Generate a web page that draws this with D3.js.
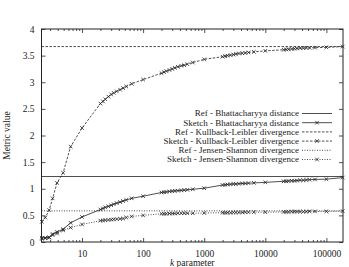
<!DOCTYPE html>
<html><head><meta charset="utf-8">
<script src="https://cdn.jsdelivr.net/npm/d3@7"></script>
<style>
body{margin:0;background:#fff;}
svg{display:block;}
</style></head>
<body><svg id="c" width="349" height="267"></svg>
<script>
// k parameter values
const kValues = [2.2, 2.5, 2.9, 3.3, 3.9, 4.9, 6.5, 10,
  20, 22, 24, 27, 30, 33, 37, 42, 47, 53, 65, 100,
  200, 220, 240, 270, 300, 330, 370, 420, 470, 530, 650, 1000,
  2000, 2200, 2400, 2700, 3000, 3300, 3700, 4200, 4700, 5300, 6500, 10000,
  20000, 22000, 24000, 27000, 30000, 33000, 37000, 42000, 47000, 53000, 65000, 100000,
  185000];
const sketchBhatt = [0.08, 0.08, 0.09, 0.15, 0.19, 0.24, 0.36, 0.47,
  0.61, 0.63, 0.65, 0.67, 0.69, 0.71, 0.73, 0.75, 0.77, 0.79, 0.82, 0.86,
  0.93, 0.935, 0.94, 0.95, 0.955, 0.96, 0.965, 0.97, 0.975, 0.98, 0.99, 1.01,
  1.07, 1.075, 1.08, 1.085, 1.09, 1.09, 1.095, 1.10, 1.10, 1.105, 1.11, 1.12,
  1.14, 1.14, 1.145, 1.15, 1.15, 1.155, 1.16, 1.16, 1.165, 1.17, 1.175, 1.18,
  1.21];
const sketchKL = [0.38, 0.46, 0.60, 0.82, 1.11, 1.30, 1.79, 2.14,
  2.60, 2.64, 2.68, 2.73, 2.77, 2.80, 2.83, 2.86, 2.89, 2.92, 2.97, 3.05,
  3.17, 3.19, 3.21, 3.23, 3.25, 3.27, 3.29, 3.31, 3.32, 3.34, 3.37, 3.43,
  3.48, 3.49, 3.50, 3.51, 3.52, 3.53, 3.54, 3.545, 3.55, 3.56, 3.57, 3.59,
  3.61, 3.615, 3.62, 3.625, 3.63, 3.635, 3.64, 3.64, 3.645, 3.645, 3.65, 3.655,
  3.67];
const sketchJS = [0.06, 0.07, 0.08, 0.13, 0.16, 0.22, 0.27, 0.33,
  0.40, 0.405, 0.41, 0.415, 0.42, 0.425, 0.43, 0.435, 0.44, 0.46, 0.48, 0.50,
  0.53, 0.53, 0.53, 0.535, 0.535, 0.535, 0.54, 0.54, 0.54, 0.54, 0.54, 0.545,
  0.55, 0.55, 0.55, 0.55, 0.555, 0.555, 0.555, 0.555, 0.56, 0.56, 0.56, 0.56,
  0.565, 0.565, 0.565, 0.57, 0.57, 0.57, 0.57, 0.57, 0.57, 0.575, 0.575, 0.575,
  0.58];
const refBhatt = 1.23, refKL = 3.67, refJS = 0.585;
const xTicks = [10, 100, 1000, 10000, 100000];
const xTickLabels = ["10", "100", "1000", "10000", "100000"];
const yTicks = [0, 0.5, 1, 1.5, 2, 2.5, 3, 3.5, 4];
const yTickLabels = ["0", "0.5", "1", "1.5", "2", "2.5", "3", "3.5", "4"];
const legendLabels = ["Ref - Bhattacharyya distance", "Sketch - Bhattacharyya distance",
  "Ref - Kullback-Leibler divergence", "Sketch - Kullback-Leibler divergence",
  "Ref - Jensen-Shannon divergence", "Sketch - Jensen-Shannon divergence"];

const FONT = "Liberation Serif";
const svg = d3.select("#c").attr("font-family", FONT);
const L = 41.5, R = 343, T = 29, B = 242;
const x = d3.scaleLog().domain([2.17, 187000]).range([L, R]);
const y = d3.scaleLinear().domain([0, 4]).range([B, T]);
const ink = "#222";

// minor ticks
const minor = [];
for (let d = 1; d <= 100000; d *= 10) for (let m = 2; m <= 9; m++) {
  const v = m * d; if (v >= 2.17 && v <= 187000 && !xTicks.includes(v)) minor.push(v);
}
function axisG(gen, tx, ty) {
  const g = svg.append("g").attr("transform", `translate(${tx},${ty})`).call(gen);
  g.attr("font-family", FONT).attr("font-size", 9.5);
  g.select(".domain").remove();
  g.selectAll("line").attr("stroke", ink).attr("stroke-width", 0.8);
  g.selectAll("text").attr("fill", ink).attr("font-family", FONT).attr("font-size", 9.5);
  return g;
}
axisG(d3.axisBottom(x).tickValues(xTicks).tickSize(-4).tickPadding(8).tickFormat((d, i) => xTickLabels[i]), 0, B);
axisG(d3.axisBottom(x).tickValues(minor).tickSize(-2).tickFormat(""), 0, B);
axisG(d3.axisTop(x).tickValues(xTicks).tickSize(-4).tickFormat(""), 0, T);
axisG(d3.axisTop(x).tickValues(minor).tickSize(-2).tickFormat(""), 0, T);
axisG(d3.axisLeft(y).tickValues(yTicks).tickSize(-4).tickPadding(7).tickFormat((d, i) => yTickLabels[i]), L, 0);
axisG(d3.axisRight(y).tickValues(yTicks).tickSize(-4).tickFormat(""), R, 0);

// reference lines
const refs = [
  {v: refBhatt, dash: null},
  {v: refKL, dash: "2.5,1.5"},
  {v: refJS, dash: "1,1.5"}];
refs.forEach(r => {
  svg.append("line").attr("x1", L).attr("x2", R).attr("y1", y(r.v)).attr("y2", y(r.v))
    .attr("stroke", ink).attr("stroke-width", 0.8).attr("stroke-dasharray", r.dash);
});

const series = [
  {vals: sketchBhatt, dash: null},
  {vals: sketchKL, dash: "2.5,1.5"},
  {vals: sketchJS, dash: "1,1.5"}];
const line = d3.line().x(d => x(d[0])).y(d => y(d[1]));
function cross(g, cx, cy) {
  const s = 1.8;
  g.append("path").attr("d", `M${cx - s},${cy - s}L${cx + s},${cy + s}M${cx - s},${cy + s}L${cx + s},${cy - s}`)
    .attr("stroke", ink).attr("stroke-width", 0.8).attr("fill", "none");
}
series.forEach(s => {
  const pts = kValues.map((k, i) => [k, s.vals[i]]);
  svg.append("path").attr("d", line(pts)).attr("fill", "none").attr("stroke", ink)
    .attr("stroke-width", 0.8).attr("stroke-dasharray", s.dash);
  const g = svg.append("g");
  pts.forEach(p => cross(g, x(p[0]), y(p[1])));
});

// border
svg.append("rect").attr("x", L).attr("y", T).attr("width", R - L).attr("height", B - T)
  .attr("fill", "none").attr("stroke", ink).attr("stroke-width", 1);

// legend
const legDash = [null, null, "2.5,1.5", "2.5,1.5", "1,1.5", "1,1.5"];
legendLabels.forEach((t, i) => {
  const ly = 113.5 + i * 9.2;
  svg.append("text").attr("x", 299).attr("y", ly).attr("dy", "0.33em").attr("text-anchor", "end")
    .attr("fill", ink).attr("font-family", FONT).attr("font-size", 9).text(t);
  svg.append("line").attr("x1", 302).attr("x2", 332).attr("y1", ly).attr("y2", ly)
    .attr("stroke", ink).attr("stroke-width", 0.8).attr("stroke-dasharray", legDash[i]);
  if (i % 2 === 1) cross(svg, 317, ly);
});

// axis titles
svg.append("text").attr("transform", `translate(10,${(T + B) / 2}) rotate(-90)`).attr("text-anchor", "middle")
  .attr("fill", ink).attr("font-family", FONT).attr("font-size", 9.5).text("Metric value");
const xt = svg.append("text").attr("x", (L + R) / 2).attr("y", 266).attr("text-anchor", "middle")
  .attr("fill", ink).attr("font-family", FONT).attr("font-size", 9.5);
xt.append("tspan").attr("font-style", "italic").text("k");
xt.append("tspan").text(" parameter");
</script></body></html>
